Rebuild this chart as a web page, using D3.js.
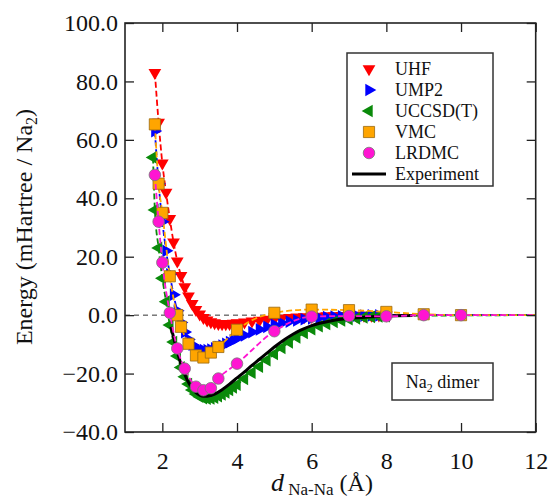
<!DOCTYPE html>
<html><head><meta charset="utf-8">
<script src="https://cdn.jsdelivr.net/npm/d3@7"></script>
<style>body{margin:0;background:#fff}svg{display:block}text{font-family:"Liberation Serif","Times New Roman",serif}</style>
</head><body><svg id="c" width="549" height="502"></svg>
<script>
// ---------- data ----------
const xDomain = [1, 12];
const yDomain = [-40, 100];
const xTicks = [2, 4, 6, 8, 10, 12];
const yTicks = [-40, -20, 0, 20, 40, 60, 80, 100];

const uhfD = [1.8,1.9,2.0,2.1,2.2,2.3,2.4,2.5,2.6,2.7,2.8,2.9,3.0,3.1,3.2,3.3,3.4,3.5,3.6,3.7,3.8,3.9,4.0,4.2,4.4,4.6,4.8,5.0,5.2,5.4,5.6,5.8,6.0,6.2,6.4,6.6,6.8,7.0,7.2,7.4,7.6,7.8,8.0];
const uhfE = [83,66,52,42,33,25,18.5,13.5,9.7,6.5,3.9,1.9,0.3,-0.9,-1.7,-2.3,-2.7,-2.9,-3.0,-3.0,-2.9,-2.8,-2.7,-2.4,-2.1,-1.8,-1.5,-1.3,-1.1,-0.9,-0.7,-0.6,-0.5,-0.4,-0.3,-0.3,-0.2,-0.2,-0.1,-0.1,-0.1,0,0];

const ump2D = [1.8,1.9,2.0,2.1,2.2,2.3,2.4,2.5,2.6,2.7,2.8,2.9,3.0,3.1,3.2,3.3,3.4,3.5,3.6,3.7,3.8,3.9,4.0,4.2,4.4,4.6,4.8,5.0,5.2,5.4,5.6,5.8,6.0,6.2,6.4,6.6,6.8,7.0,7.2,7.4,7.6,7.8,8.0];
const ump2E = [63,45,32,22,14,7,1.5,-2.5,-5.8,-8.3,-10.1,-11.2,-11.8,-12.0,-12.0,-11.8,-11.4,-10.9,-10.4,-9.8,-9.2,-8.6,-8.0,-6.9,-5.8,-4.9,-4.0,-3.3,-2.7,-2.2,-1.8,-1.4,-1.1,-0.9,-0.7,-0.5,-0.4,-0.3,-0.2,-0.2,-0.1,-0.1,0];

const ccsdD = [1.75,1.8,1.9,2.0,2.1,2.2,2.3,2.4,2.5,2.6,2.7,2.8,2.9,3.0,3.1,3.2,3.3,3.4,3.5,3.6,3.7,3.8,3.9,4.0,4.2,4.4,4.6,4.8,5.0,5.2,5.4,5.6,5.8,6.0,6.2,6.4,6.6,6.8,7.0,7.2,7.4,7.6,7.8,8.0];
const ccsdE = [54,36,23,12.6,4.6,-3.4,-9.2,-14.0,-17.9,-21.1,-23.6,-25.6,-27.0,-27.9,-28.4,-28.6,-28.5,-28.2,-27.7,-27.1,-26.4,-25.6,-24.7,-23.8,-21.8,-19.7,-17.6,-15.4,-13.3,-11.2,-9.3,-7.6,-6.1,-4.8,-3.8,-3.0,-2.3,-1.8,-1.4,-1.1,-0.8,-0.6,-0.4,-0.3];

const vmcD = [1.8,1.9,2.0,2.2,2.4,2.5,2.7,2.9,3.1,3.3,3.5,4.0,5.0,6.0,7.0,8.0,9.0,10.0];
const vmcE = [65.3,45,35,13.3,0,-4,-9.8,-13.8,-14.5,-12.8,-10.9,-5,0.8,1.9,1.7,1.1,0.3,0];

const lrdmcD = [1.8,1.9,2.0,2.2,2.4,2.6,2.9,3.1,3.3,3.5,4.0,5.0,6.0,7.0,8.0,9.0,10.0];
const lrdmcE = [48,32,18,0.8,-11.4,-18.3,-24.5,-25.7,-25.0,-21.7,-16.6,-5.5,-0.5,-0.3,-0.4,0,0];

const expD = [2.23,2.3,2.4,2.5,2.6,2.7,2.8,2.9,3.0,3.1,3.2,3.3,3.4,3.6,3.8,4.0,4.2,4.4,4.6,4.8,5.0,5.2,5.4,5.6,5.8,6.0,6.5,7.0,7.5,8.0,8.7];
const expE = [-4,-7.5,-12.5,-16.8,-20.3,-23,-25.1,-26.5,-27.4,-27.8,-27.8,-27.5,-27.0,-25.5,-23.6,-21.5,-19.4,-17.2,-15.1,-13.0,-10.9,-9.0,-7.3,-5.8,-4.6,-3.6,-2.0,-1.1,-0.6,-0.3,-0.15];

// fitted dashed curves continue to the frame at the dissociation limit
const tailD = 12;
const tailE = 0;

const seriesNames = ["UHF","UMP2","UCCSD(T)","VMC","LRDMC"];
const seriesColors = ["#ff0000","#0000ff","#0a8a0a","#ffa500","#ff14d2"];
const expName = "Experiment";
const boxLabel = "dimer";

// ---------- drawing ----------
const svg = d3.select("#c");
const M = {l:125, r:535.7, t:23, b:432};
const x = d3.scaleLinear().domain(xDomain).range([M.l, M.r]);
const y = d3.scaleLinear().domain(yDomain).range([M.b, M.t]);
const FONT = '"Liberation Serif","Times New Roman",serif';

const plot = svg.append("g");
const clipId = "clipP";
svg.append("defs").append("clipPath").attr("id", clipId)
  .append("rect").attr("x", M.l).attr("y", M.t).attr("width", M.r - M.l).attr("height", M.b - M.t);

// zero line
plot.append("line").attr("x1", M.l).attr("x2", M.r).attr("y1", y(0)).attr("y2", y(0))
  .attr("stroke", "#333").attr("stroke-width", 1).attr("stroke-dasharray", "5,4");

const lineGen = d3.line().x(p => x(p[0])).y(p => y(p[1])).curve(d3.curveMonotoneX);

const tri = d3.symbol().type(d3.symbolTriangle).size(70)();
const sq = d3.symbol().type(d3.symbolSquare).size(125)();
const circ = d3.symbol().type(d3.symbolCircle).size(105)();

const defs = [
  {d: uhfD, e: uhfE, c: seriesColors[0], path: tri, rot: 180, stroke: "none"},
  {d: ump2D, e: ump2E, c: seriesColors[1], path: tri, rot: 90, stroke: "none"},
  {d: ccsdD, e: ccsdE, c: seriesColors[2], path: tri, rot: -90, stroke: "none"},
  {d: vmcD, e: vmcE, c: seriesColors[3], path: sq, rot: 0, stroke: "#9a6a10"},
  {d: lrdmcD, e: lrdmcE, c: seriesColors[4], path: circ, rot: 0, stroke: "#777"}
];

const data = defs.map(s => s.d.map((v, i) => [v, s.e[i]]));
const gData = plot.append("g").attr("clip-path", `url(#${clipId})`);

function drawSeries(i) {
  const s = defs[i];
  const pts = data[i];
  gData.append("path").datum(pts.concat([[tailD, tailE]]))
    .attr("d", lineGen).attr("fill", "none").attr("stroke", s.c)
    .attr("stroke-width", 1.8).attr("stroke-dasharray", "6,3");
  gData.append("g").selectAll("path").data(pts).join("path")
    .attr("d", s.path)
    .attr("transform", p => `translate(${x(p[0])},${y(p[1])}) rotate(${s.rot})`)
    .attr("fill", s.c).attr("stroke", s.stroke).attr("stroke-width", 0.8);
}
drawSeries(0); drawSeries(1); drawSeries(2);
// experiment line
const expData = expD.map((v, i) => [v, expE[i]]);
gData.append("path").datum(expData).attr("d", lineGen)
  .attr("fill", "none").attr("stroke", "#000").attr("stroke-width", 3);
drawSeries(3); drawSeries(4);

// axes
function styleAxis(g) {
  g.attr("font-family", FONT).attr("font-size", 24);
  g.select(".domain").remove();
  g.selectAll(".tick line").attr("stroke", "#222").attr("stroke-width", 1.3);
  g.selectAll("text").attr("fill", "#111");
}
svg.append("g").attr("transform", `translate(0,${M.b})`)
  .call(d3.axisBottom(x).tickValues(xTicks).tickSize(-9).tickSizeOuter(0).tickPadding(20))
  .call(styleAxis);
svg.append("g").attr("transform", `translate(0,${M.t})`)
  .call(d3.axisTop(x).tickValues(xTicks).tickSize(-9).tickSizeOuter(0).tickFormat(""))
  .call(styleAxis);
svg.append("g").attr("transform", `translate(${M.l},0)`)
  .call(d3.axisLeft(y).tickValues(yTicks).tickSize(-9).tickSizeOuter(0).tickPadding(7).tickFormat(d3.format(".1f")))
  .call(styleAxis);
svg.append("g").attr("transform", `translate(${M.r},0)`)
  .call(d3.axisRight(y).tickValues(yTicks).tickSize(-9).tickSizeOuter(0).tickFormat(""))
  .call(styleAxis);

// frame
svg.append("rect").attr("x", M.l).attr("y", M.t).attr("width", M.r - M.l).attr("height", M.b - M.t)
  .attr("fill", "none").attr("stroke", "#222").attr("stroke-width", 1.6);

// axis titles
const xt = svg.append("text").attr("x", 322).attr("y", 491).attr("text-anchor", "middle")
  .attr("font-family", FONT).attr("font-size", 24).attr("fill", "#111");
xt.append("tspan").attr("font-style", "italic").attr("font-size", 26).text("d");
xt.append("tspan").attr("font-size", 17).attr("dy", 4).text(" Na-Na");
xt.append("tspan").attr("dy", -4).text(" (Å)");

const yt = svg.append("text").attr("transform", "translate(32,227) rotate(-90)")
  .attr("text-anchor", "middle").attr("font-family", FONT).attr("font-size", 24).attr("fill", "#111");
yt.append("tspan").text("Energy (mHartree / Na");
yt.append("tspan").attr("font-size", 16).attr("dy", 5).text("2");
yt.append("tspan").attr("dy", -5).text(")");

// legend
const lg = svg.append("g");
lg.append("rect").attr("x", 347).attr("y", 53).attr("width", 146).attr("height", 133)
  .attr("fill", "#fff").attr("stroke", "#333").attr("stroke-width", 1.5);
const ly0 = 69, ldy = 21;
defs.forEach((s, i) => {
  lg.append("path").attr("d", s.path)
    .attr("transform", `translate(369,${ly0 + i * ldy}) rotate(${s.rot})`)
    .attr("fill", s.c).attr("stroke", s.stroke).attr("stroke-width", 0.8);
  lg.append("text").attr("x", 395).attr("y", ly0 + i * ldy + 6)
    .attr("font-family", FONT).attr("font-size", 18).attr("fill", "#111").text(seriesNames[i]);
});
lg.append("line").attr("x1", 352).attr("x2", 386).attr("y1", ly0 + 5 * ldy).attr("y2", ly0 + 5 * ldy)
  .attr("stroke", "#000").attr("stroke-width", 3);
lg.append("text").attr("x", 395).attr("y", ly0 + 5 * ldy + 6)
  .attr("font-family", FONT).attr("font-size", 18).attr("fill", "#111").text(expName);

// Na2 dimer box
const bx = svg.append("g");
bx.append("rect").attr("x", 392).attr("y", 363).attr("width", 101).attr("height", 37)
  .attr("fill", "#fff").attr("stroke", "#333").attr("stroke-width", 1.5);
const bt = bx.append("text").attr("x", 442.5).attr("y", 388).attr("text-anchor", "middle")
  .attr("font-family", FONT).attr("font-size", 18).attr("fill", "#111");
bt.append("tspan").text("Na");
bt.append("tspan").attr("font-size", 12).attr("dy", 4).text("2");
bt.append("tspan").attr("dy", -4).text(" " + boxLabel);
</script></body></html>
